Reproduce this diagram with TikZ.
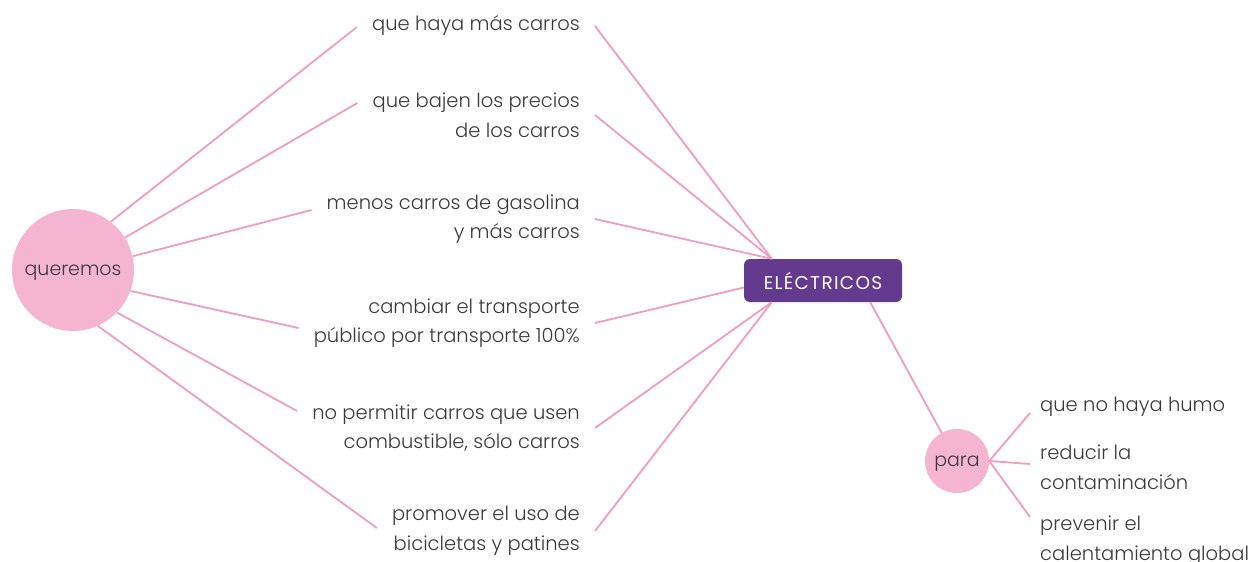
\documentclass[tikz,border=0pt]{standalone}
\usepackage{fontspec}
\setmainfont{Poppins}[UprightFont=* Light]
\newfontfamily\topicfont{Poppins}[LetterSpace=7]
\usepackage{tikz}
\usetikzlibrary{shapes, positioning}
\definecolor{lineColor}{HTML}{F29BC1}
\definecolor{bubbleColor}{HTML}{F5B5D0}
\definecolor{mainColor}{HTML}{633A8E}
\definecolor{textColor}{HTML}{3A3A3A}
\tikzstyle{bubble} = [circle, fill=bubbleColor, draw=none, text=textColor, inner sep=0pt, text depth=0pt, font=\fontsize{19}{22}\selectfont]
\tikzstyle{line} = [draw=lineColor, line width=1.8pt]

\begin{document}
\begin{tikzpicture}[
    x=1pt, y=-1pt,
    idea/.style={align=right, anchor=east, yshift=-3pt, text=textColor, inner xsep=15pt, inner ysep=2pt, font=\fontsize{19.5}{29.5}\selectfont},
    goal/.style={align=left, anchor=west, yshift=-3pt, text=textColor, inner xsep=10pt, inner ysep=2pt, font=\fontsize{19.5}{29.5}\selectfont},
    topic/.style={rectangle, rounded corners=6pt, fill=mainColor, text=white, minimum width=158pt, minimum height=43pt, font=\topicfont\fontsize{18.5}{22}\selectfont}
]
\useasboundingbox (0,0) rectangle (1256,562);

% Centro
\node[topic] (elec) at (823,280.5) {ELÉCTRICOS};
\node[bubble, minimum size=122pt] (queremos) at (73,270) {queremos};
\node[bubble, minimum size=64pt] (para) at (957,461) {para};

% Ideas
\node[idea] (i1) at (595,23) {que haya más carros};
\node[idea] (i2) at (595,112) {que bajen los precios\\de los carros};
\node[idea] (i3) at (595,216) {menos carros de gasolina\\y más carros};
\node[idea] (i4) at (595,320) {cambiar el transporte\\público por transporte 100\%};
\node[idea] (i5) at (595,425) {no permitir carros que usen\\combustible, sólo carros};
\node[idea] (i6) at (595,528) {promover el uso de\\bicicletas y patines};

% Para
\node[goal] (g1) at (1030,404) {que no haya humo};
\node[goal] (g2) at (1030,464) {reducir la\\contaminación};
\node[goal] (g3) at (1030,538) {prevenir el\\calentamiento global};

% Draw lines
\draw[line] (queremos.52) -- ([yshift=-1pt]i1.west);
\draw[line] (queremos.32) -- ([yshift=12pt]i2.west);
\draw[line] (queremos.13) -- ([yshift=9pt]i3.west);
\draw[line] (queremos.-20) -- ([yshift=-5pt]i4.west);
\draw[line] (queremos.-44) -- ([yshift=17pt]i5.west);
\draw[line] (queremos.-66) -- ([yshift=3pt]i6.west);
\draw[line] (i1.east) -- ([xshift=28pt]elec.north west);
\draw[line] (i2.east) -- ([xshift=28pt]elec.north west);
\draw[line] (i3.east) -- ([xshift=28pt]elec.north west);
\draw[line] (i4.east) -- ([yshift=-7pt]elec.west);
\draw[line] (i5.east) -- ([xshift=28pt]elec.south west);
\draw[line] (i6.east) -- ([xshift=28pt]elec.south west);
\draw[line] ([xshift=-32pt]elec.south east) -- (para);
\draw[line] (para.east) -- ([yshift=-6pt]g1.west);
\draw[line] (para.east) -- ([yshift=3pt]g2.west);
\draw[line] (para.east) -- ([yshift=24pt]g3.west);
\end{tikzpicture}
\end{document}
